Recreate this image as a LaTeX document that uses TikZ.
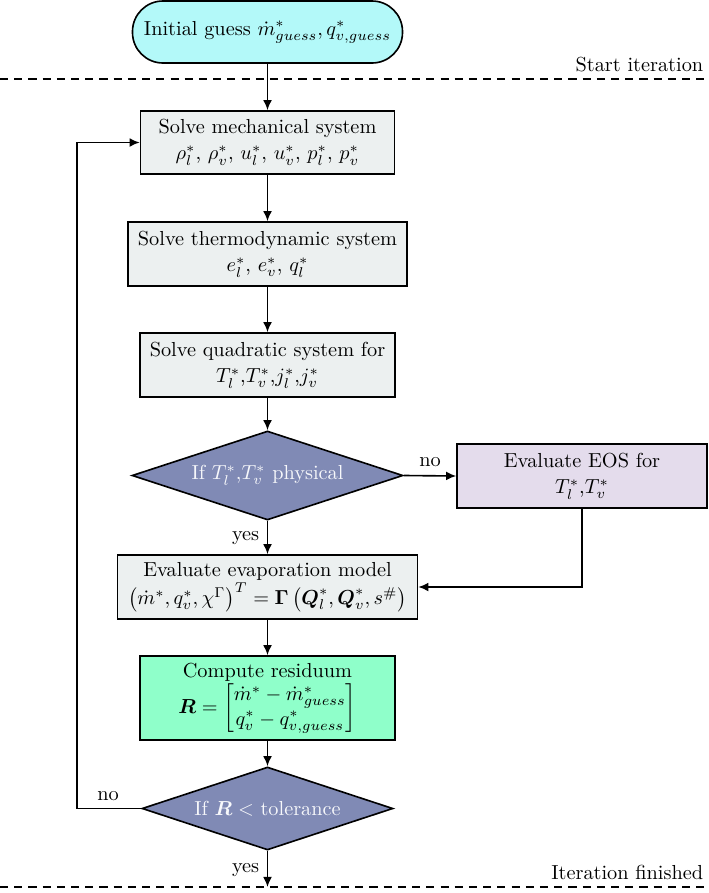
\documentclass[tikz,border=0pt]{standalone}
\usepackage{amsmath}
\usetikzlibrary{shapes.geometric,arrows.meta}
\newcommand{\pxu}{0.4926pt}
\definecolor{termfill}{RGB}{179,249,249}
\definecolor{boxfill}{RGB}{236,240,240}
\definecolor{decfill}{RGB}{128,138,181}
\definecolor{eosfill}{RGB}{228,220,236}
\definecolor{resfill}{RGB}{143,255,202}
\begin{document}
\begin{tikzpicture}[x=0.4926pt,y=-0.4926pt,
  line width=0.8pt,
  procbox/.style={draw=black, fill=boxfill, rectangle, align=center, inner sep=0pt},
  decbox/.style={draw=black, fill=decfill, diamond, aspect=3, text=white!94!decfill, inner sep=0pt, align=center},
  conn/.style={-{Latex[length=5pt,width=4.4pt]}},
  sepline/.style={dash pattern=on 4pt off 3pt},
  lbl/.style={inner sep=0pt}]
\useasboundingbox (0,0) rectangle (708,893);

% separator lines
\coordinate (s1l) at (0,79);
\coordinate (s1r) at (708,79);
\coordinate (s2l) at (0,887);
\coordinate (s2r) at (708,887);
\draw[sepline] (s1l) -- (s1r);
\draw[sepline] (s2l) -- (s2r);
\node[lbl, anchor=base east] (startlbl) at (704,71) {Start iteration};
\node[lbl, anchor=base east] (endlbl) at (704,879) {Iteration finished};

% nodes
\node[draw=black, fill=termfill, rounded corners=15pt, minimum width=270*\pxu, minimum height=62*\pxu, inner sep=0pt] (term) at (267.5,32)
  {Initial guess $\dot m^*_{guess}, q^*_{v,guess}$};

\node[procbox, minimum width=254*\pxu, minimum height=63*\pxu] (box1) at (267.5,142.5)
  {Solve mechanical system\\[1pt] $\rho_l^*$, $\rho_v^*$, $u_l^*$, $u_v^*$, $p_l^*$, $p_v^*$};

\node[procbox, minimum width=279*\pxu, minimum height=64*\pxu] (box2) at (267.5,254)
  {Solve thermodynamic system\\[1pt] $e_l^*$, $e_v^*$, $q_l^*$};

\node[procbox, minimum width=255*\pxu, minimum height=64*\pxu] (box3) at (267.5,365)
  {Solve quadratic system for\\[1pt] $T_l^*$,$T_v^*$,$j_l^*$,$j_v^*$};

\node[decbox, minimum width=271*\pxu, minimum height=89*\pxu] (dia1) at (267.5,475.5)
  {If $T_l^*$,$T_v^*$ physical};

\node[procbox, fill=eosfill, minimum width=250*\pxu, minimum height=64*\pxu] (eos) at (582,476)
  {Evaluate EOS for\\[1pt] $T_l^*$,$T_v^*$};

\node[procbox, minimum width=300*\pxu, minimum height=64*\pxu] (eval) at (267.5,587)
  {Evaluate evaporation model\\ $\left(\dot m^*, q_v^*, \chi^\Gamma\right)^T = \mathbf{\Gamma}\left(\boldsymbol{Q}_l^*, \boldsymbol{Q}_v^*, s^\#\right)$};

\node[procbox, fill=resfill, minimum width=255*\pxu, minimum height=84*\pxu] (res) at (267.5,698)
  {Compute residuum\\ $\boldsymbol{R} = \begin{bmatrix}\dot m^* - \dot m^*_{guess}\\ q_v^* - q^*_{v,guess}\end{bmatrix}$};

\node[decbox, minimum width=251*\pxu, minimum height=83*\pxu] (dia2) at (267.5,808.5)
  {If $\boldsymbol{R} <$ tolerance};

% connectors
\coordinate (loopx) at (77,0);
\coordinate (endc) at (267.5,887);
\draw[conn] (term) -- (box1);
\draw[conn] (box1) -- (box2);
\draw[conn] (box2) -- (box3);
\draw[conn] (box3) -- (dia1);
\draw[conn] (dia1.east) -- (eos.west);
\node[lbl, anchor=base] (nolbl1) at (430,466) {no};
\draw[conn] (dia1.south) -- (eval.north);
\node[lbl, anchor=base east] (yeslbl1) at (260,540) {yes};
\draw[conn] (eos.south) |- (eval.east);
\draw[conn] (eval) -- (res);
\draw[conn] (res) -- (dia2);
\draw[conn] (dia2.west) -- (dia2.west -| loopx) |- (box1.west);
\node[lbl, anchor=base] (nolbl2) at (108,800) {no};
\draw[conn] (dia2.south) -- (endc);
\node[lbl, anchor=base east] (yeslbl2) at (260,872) {yes};
\end{tikzpicture}
\end{document}
